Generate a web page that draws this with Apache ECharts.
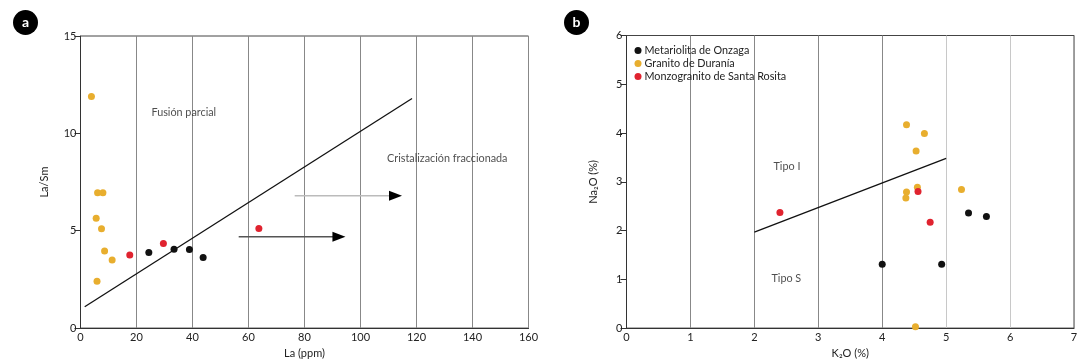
<!DOCTYPE html>
<html>
<head>
<meta charset="utf-8">
<script src="https://cdn.jsdelivr.net/npm/echarts@6/dist/echarts.min.js"></script>
<style>html,body{margin:0;padding:0;background:#fff}#c{width:1089px;height:364px}</style>
</head>
<body>
<div id="c"></div>
<script>
// ---- Panel a data: [La (ppm), La/Sm]
const seriesNames = ['Metariolita de Onzaga', 'Granito de Duranía', 'Monzogranito de Santa Rosita'];
const aOnzaga = [[24.4,3.88],[33.4,4.05],[38.9,4.03],[43.8,3.62]];
const aDurania = [[3.9,11.89],[6.1,6.95],[8.0,6.95],[5.6,5.64],[7.5,5.10],[8.6,3.96],[11.3,3.50],[5.9,2.40]];
const aRosita = [[17.6,3.76],[29.6,4.34],[63.7,5.12]];
const aDivider = [[1.5,1.10],[118.4,11.79]];
const aArrowLow = [[56.5,4.69],[92.3,4.69]];
const aArrowHigh = [[76.5,6.80],[112.5,6.80]];
const aLabels = [[36.9,11.07,'Fusión parcial'],[131,8.72,'Cristalización fraccionada']];
const aXTicks = [0,20,40,60,80,100,120,140,160];
const aYTicks = [0,5,10,15];

// ---- Panel b data: [K2O (%), Na2O (%)]
const bOnzaga = [[5.35,2.36],[5.63,2.29],[4.00,1.31],[4.93,1.31]];
const bDurania = [[4.38,4.17],[4.66,3.99],[4.53,3.63],[4.55,2.89],[4.38,2.79],[4.37,2.67],[5.24,2.84],[4.52,0.03]];
const bRosita = [[4.56,2.80],[2.40,2.37],[4.75,2.17]];
const bDivider = [[2.0,1.97],[5.0,3.48]];
const bLabels = [[2.51,3.32,'Tipo I'],[2.50,1.01,'Tipo S']];

const colors = ['#111111', '#E8AE2E', '#E0232F'];
const FONT = 'Lato';
const txt = {fontFamily: FONT, fontSize: 11, color: '#222'};

function baseX(idx, max, interval, name, splitColors) {
  return {
    gridIndex: idx, type: 'value', min: 0, max: max, interval: interval,
    name: name, nameLocation: 'middle', nameGap: 15,
    nameTextStyle: Object.assign({}, txt),
    axisLine: {show: true, lineStyle: {color: '#333', width: 1}},
    axisTick: {show: false},
    axisLabel: Object.assign({margin: 4}, txt),
    splitLine: {show: true, lineStyle: {color: splitColors, width: 1}}
  };
}
function baseY(idx, max, interval, name, gap) {
  return {
    gridIndex: idx, type: 'value', min: 0, max: max, interval: interval,
    name: name, nameLocation: 'middle', nameGap: gap,
    nameTextStyle: Object.assign({}, txt),
    axisLine: {show: true, lineStyle: {color: '#333', width: 1}},
    axisTick: {show: true, length: 6, lineStyle: {color: '#333'}},
    axisLabel: Object.assign({margin: 4}, txt),
    splitLine: {show: false}
  };
}
function pts(name, data, xi, color) {
  return {type: 'scatter', name: name, xAxisIndex: xi, yAxisIndex: xi, data: data,
    symbol: 'circle', symbolSize: 7, itemStyle: {color: color, opacity: 1}, z: 5};
}
function line(data, xi) {
  return {type: 'line', xAxisIndex: xi, yAxisIndex: xi, data: data, symbol: 'none',
    lineStyle: {color: '#111', width: 1.3}, silent: true, z: 3};
}
function labels(data, xi) {
  return {type: 'scatter', xAxisIndex: xi, yAxisIndex: xi, symbolSize: 0, silent: true,
    data: data.map(d => ({value: [d[0], d[1]], name: d[2]})),
    label: Object.assign({show: true, position: 'inside', formatter: p => p.name}, txt, {fontSize: 10.8})};
}
function arrow(data, xi, shaftColor) {
  return [
    {type: 'line', xAxisIndex: xi, yAxisIndex: xi, data: data, symbol: 'none', silent: true,
      lineStyle: {color: shaftColor, width: 1.5}, z: 3},
    {type: 'scatter', xAxisIndex: xi, yAxisIndex: xi, data: [data[1]], silent: true,
      symbol: 'triangle', symbolRotate: -90, symbolSize: [10, 13], itemStyle: {color: '#000', opacity: 1}, z: 4}
  ];
}

const chart = echarts.init(document.getElementById('c'), null, {renderer: 'canvas'});
const option = {
  animation: false,
  textStyle: {fontFamily: FONT},
  grid: [
    {left: 80.5, right: 560.5, top: 36, bottom: 35, show: true, borderColor: '#444', borderWidth: 1, backgroundColor: 'transparent'},
    {left: 626.5, right: 15, top: 35.5, bottom: 35, show: true, borderColor: '#444', borderWidth: 1, backgroundColor: 'transparent'}
  ],
  xAxis: [
    baseX(0, aXTicks[aXTicks.length - 1], 20, 'La (ppm)', ['#888','#888','#888','#888','#888','#888','#888','#888','#888']),
    baseX(1, 7, 1, 'K₂O (%)', ['#888','#888','#888','#888','#888','#c8c8c8','#c8c8c8','#999'])
  ],
  yAxis: [
    baseY(0, aYTicks[aYTicks.length - 1], 5, 'La/Sm', 31),
    baseY(1, 6, 1, 'Na₂O (%)', 28)
  ],
  legend: {
    data: seriesNames, orient: 'vertical', left: 629.5, top: 40,
    itemWidth: 7, itemHeight: 7, itemGap: 2, icon: 'circle',
    textStyle: Object.assign({}, txt, {fontSize: 10.8, color: '#222', padding: [0,0,0,-2]})
  },
  graphic: [
    {type: 'circle', shape: {cx: 25.5, cy: 22.5, r: 12.5}, style: {fill: '#000'}},
    {type: 'text', x: 25.5, y: 22.5, style: {text: 'a', fill: '#fff', font: 'bold 14px Lato', align: 'center', verticalAlign: 'middle'}},
    {type: 'circle', shape: {cx: 576.5, cy: 22.5, r: 12.5}, style: {fill: '#000'}},
    {type: 'text', x: 576.5, y: 22.5, style: {text: 'b', fill: '#fff', font: 'bold 14px Lato', align: 'center', verticalAlign: 'middle'}}
  ],
  series: [
    line(aDivider, 0),
    ...arrow(aArrowLow, 0, '#555'),
    ...arrow(aArrowHigh, 0, '#bbb'),
    labels(aLabels, 0),
    pts(seriesNames[0], aOnzaga, 0, colors[0]),
    pts(seriesNames[1], aDurania, 0, colors[1]),
    pts(seriesNames[2], aRosita, 0, colors[2]),
    line(bDivider, 1),
    labels(bLabels, 1),
    pts(seriesNames[0], bOnzaga, 1, colors[0]),
    pts(seriesNames[1], bDurania, 1, colors[1]),
    pts(seriesNames[2], bRosita, 1, colors[2])
  ]
};
chart.setOption(option);
</script>
</body>
</html>
